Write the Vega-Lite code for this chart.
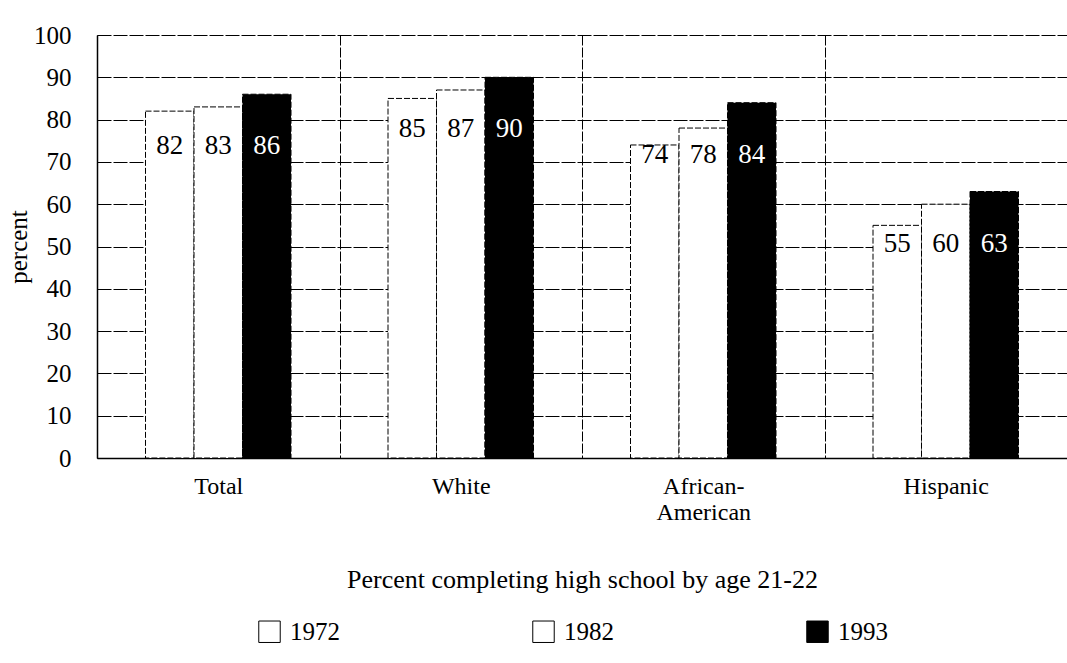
{
  "$schema": "https://vega.github.io/schema/vega-lite/v6.json",
  "width": 970,
  "height": 423,
  "autosize": {"type": "none"},
  "padding": {"left": 97, "top": 35, "right": 0, "bottom": 205},
  "background": "white",
  "config": {
    "font": "Liberation Serif",
    "view": {"stroke": null}
  },
  "data": {
    "values": [
      {"group": "Total", "year": "1972", "percent": 82},
      {"group": "Total", "year": "1982", "percent": 83},
      {"group": "Total", "year": "1993", "percent": 86},
      {"group": "White", "year": "1972", "percent": 85},
      {"group": "White", "year": "1982", "percent": 87},
      {"group": "White", "year": "1993", "percent": 90},
      {"group": "African-American", "year": "1972", "percent": 74},
      {"group": "African-American", "year": "1982", "percent": 78},
      {"group": "African-American", "year": "1993", "percent": 84},
      {"group": "Hispanic", "year": "1972", "percent": 55},
      {"group": "Hispanic", "year": "1982", "percent": 60},
      {"group": "Hispanic", "year": "1993", "percent": 63}
    ]
  },
  "encoding": {
    "x": {
      "field": "group",
      "type": "nominal",
      "sort": ["Total", "White", "African-American", "Hispanic"],
      "scale": {"paddingInner": 0, "paddingOuter": 0},
      "axis": {
        "title": "Percent completing high school by age 21-22",
        "titleFont": "Liberation Serif",
        "titleFontSize": 26,
        "titleFontWeight": "normal",
        "titleColor": "black",
        "titlePadding": 42,
        "labelAngle": 0,
        "labelFont": "Liberation Serif",
        "labelFontSize": 24,
        "labelColor": "black",
        "labelPadding": 16,
        "labelLineHeight": 26,
        "labelExpr": "datum.value == 'African-American' ? ['African-', 'American'] : datum.value",
        "ticks": false,
        "grid": true,
        "tickBand": "extent",
        "gridColor": "black",
        "gridOpacity": 1,
        "gridWidth": 1,
        "gridDash": [10, 2],
        "domainColor": "black",
        "domainWidth": 1.5
      }
    },
    "xOffset": {
      "field": "year",
      "type": "nominal",
      "scale": {"paddingInner": 0, "paddingOuter": 1.33}
    },
    "y": {
      "field": "percent",
      "type": "quantitative",
      "scale": {"domain": [0, 100]},
      "axis": {
        "title": "percent",
        "titleFont": "Liberation Serif",
        "titleFontSize": 25,
        "titleFontWeight": "normal",
        "titleColor": "black",
        "titleX": -66,
        "titleBaseline": "bottom",
        "values": [0, 10, 20, 30, 40, 50, 60, 70, 80, 90, 100],
        "labelFont": "Liberation Serif",
        "labelFontSize": 25,
        "labelColor": "black",
        "labelPadding": 26,
        "ticks": false,
        "grid": true,
        "gridColor": "black",
        "gridOpacity": 1,
        "gridWidth": 1.2,
        "gridDash": [14, 2],
        "domainColor": "black",
        "domainWidth": 1.5
      }
    }
  },
  "layer": [
    {
      "mark": {"type": "bar", "stroke": "black", "strokeWidth": 1, "strokeDash": [6, 2]},
      "encoding": {
        "fill": {
          "field": "year",
          "type": "nominal",
          "scale": {"domain": ["1972", "1982", "1993"], "range": ["white", "white", "black"]},
          "legend": {
            "title": null,
            "orient": "none",
            "direction": "horizontal",
            "legendX": 160,
            "legendY": 584,
            "symbolType": "square",
            "symbolSize": 460,
            "symbolStrokeColor": "black",
            "symbolStrokeWidth": 1,
            "labelFont": "Liberation Serif",
            "labelFontSize": 25,
            "labelColor": "black",
            "labelOffset": 8,
            "columnPadding": 190
          }
        }
      }
    },
    {
      "transform": [
        {"joinaggregate": [{"op": "max", "field": "percent", "as": "groupMax"}], "groupby": ["group"]}
      ],
      "mark": {"type": "text", "baseline": "middle", "align": "center", "dy": 52, "fontSize": 27, "font": "Liberation Serif"},
      "encoding": {
        "y": {"field": "groupMax", "type": "quantitative"},
        "text": {"field": "percent", "type": "quantitative"},
        "color": {
          "condition": {"test": "datum.year == '1993'", "value": "white"},
          "value": "black"
        }
      }
    }
  ]
}
